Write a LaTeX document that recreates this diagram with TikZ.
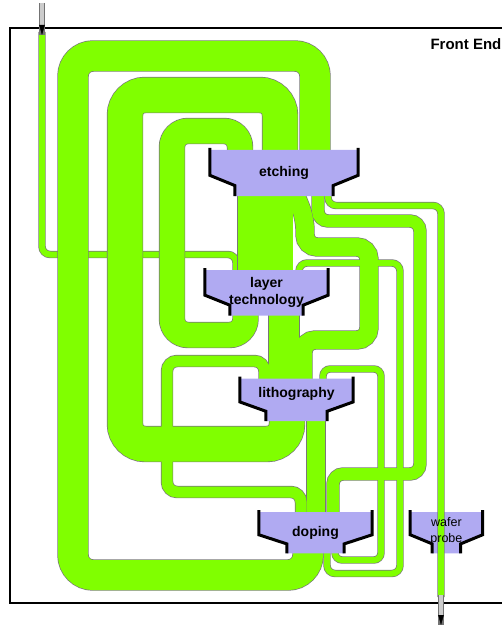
\documentclass[tikz,border=0pt]{standalone}
\usepackage{fontspec}
\setmainfont{Liberation Sans}
\usetikzlibrary{positioning,calc,arrows.meta}
\definecolor{pipegreen}{RGB}{128,255,0}
\definecolor{pipeline}{RGB}{120,120,120}
\definecolor{hopperblue}{RGB}{176,170,242}
\pgfdeclarelayer{pipes}
\pgfdeclarelayer{background}
\pgfsetlayers{pipes,background,main}
\tikzset{
  pipe/.style={draw=\pipecol, line width=#1+\pipeplus},
  hopper/.style={rectangle, inner sep=0pt, minimum width=#1, minimum height=44, align=center, font=\bfseries\fontsize{14}{17}\selectfont},
  hopperfill/.style={fill=hopperblue},
  hopperedge/.style={draw=black, line width=3},
  feedarrow/.style={draw=black!20, line width=4, -{Triangle[length=10pt,width=5.5pt,color=black,line width=0.4pt]}, preaction={draw=black!55, line width=5.6, arrows=-}},
}
% purple hopper drawn round a named node, #2 = inset of the outlet
\newcommand{\hopperbody}[2]{%
  \fill[hopperfill] (#1.north west) -- (#1.north east)
    -- ($(#1.north east)!0.55!(#1.south east)$)
    -- ($(#1.north east)!0.77!(#1.south east)+(-#2,0)$)
    -- ($(#1.south east)+(-#2,0)$) -- ($(#1.south west)+(#2,0)$)
    -- ($(#1.north west)!0.77!(#1.south west)+(#2,0)$)
    -- ($(#1.north west)!0.55!(#1.south west)$) -- cycle;
  \draw[hopperedge] ([yshift=2]#1.north west) -- ($(#1.north west)!0.55!(#1.south west)$)
    -- ($(#1.north west)!0.77!(#1.south west)+(#2,0)$) -- ($(#1.south west)+(#2,0)$);
  \draw[hopperedge] ([yshift=2]#1.north east) -- ($(#1.north east)!0.55!(#1.south east)$)
    -- ($(#1.north east)!0.77!(#1.south east)+(-#2,0)$) -- ($(#1.south east)+(-#2,0)$);
}

\begin{document}
\begin{tikzpicture}[x=1pt, y=-1pt]
  \useasboundingbox (0,0) rectangle (502,626);
  \node[hopper=148, minimum height=46] (etching) at (284,173) {etching};
  \node[hopper=123, minimum height=45, below=74pt of etching, xshift=-17.5pt] (layer) {layer\\technology};
  \node[hopper=113, minimum height=42, below=63pt of layer, xshift=30pt] (litho) {\raisebox{6pt}[\height][\depth]{lithography}};
  \node[hopper=113, minimum height=41, below=91pt of litho, xshift=19pt] (doping) {doping};
  \node[hopper=72, minimum height=41, right=38pt of doping, font=\fontsize{12.5}{14}\selectfont] (wafer) {\raisebox{2pt}[\height][\depth]{wafer}\\probe};

  \draw[line width=2] (512,28) -- (10,28) -- (10,603) -- (512,603);
  \node[anchor=west, font=\bfseries\fontsize{15}{18}\selectfont] (title) at (427,44) {Front End};

  \coordinate (in) at (42,3);
  \coordinate (inpipe) at (42,32);
  \coordinate (pipeend) at (441,597);
  \coordinate (out) at (441,625);

  \begin{pgfonlayer}{pipes}
    \hopperbody{wafer}{22}
    % feed line runs under the loops
    \foreach \pipecol/\pipeplus in {pipeline/1.4, pipegreen/0}{
      \draw[pipe=6, rounded corners=8] (inpipe) |- (236,254.5) -- ([xshift=-30.5,yshift=-4]layer.north);
    }
    \foreach \pipecol/\pipeplus in {pipeline/1.4, pipegreen/0}{
      % return loops
      \draw[pipe=30, rounded corners=20] ([xshift=-7.5,yshift=4]doping.south) |- (73,575) |- (315,56) -- ([xshift=31,yshift=-4]etching.north);
      \draw[pipe=35, rounded corners=20] ([xshift=-9.5,yshift=4]litho.south) |- (125,444) |- (280,95) -- ([xshift=-4,yshift=-4]etching.north);
      \draw[pipe=25, rounded corners=16] ([xshift=-21,yshift=4]layer.south) |- (172,335) |- (240,131) -- ([xshift=-44,yshift=-4]etching.north);
      \draw[pipe=11, rounded corners=10] ([xshift=-32,yshift=-4]litho.north) |- (167,361) |- (301,492) -- ([xshift=-14.5,yshift=-4]doping.north);
      % main line
      \draw[pipe=55] ([xshift=-19,yshift=4]etching.south) -- ([xshift=-1.5,yshift=-4]layer.north);
      \draw[pipe=30] ([xshift=17.5,yshift=4]layer.south) -- ([xshift=-12.5,yshift=-4]litho.north);
      \draw[pipe=18] ([xshift=19.5,yshift=4]litho.south) -- ([xshift=0.5,yshift=-4]doping.north);
      % bypasses on the right
      \draw[pipe=18, rounded corners=12] ([xshift=8,yshift=10]etching.south) -- (305,218) |- (369,247) |- (303,340) -- ([xshift=6.5,yshift=-4]litho.north);
      \draw[pipe=12, rounded corners=10] ([xshift=34,yshift=6]etching.south) |- (420,221) |- (333,474) -- ([xshift=17.5,yshift=-4]doping.north);
      \draw[pipe=6, rounded corners=8] ([xshift=32.5,yshift=-4]layer.north) |- (400,263) |- (327,573.5) -- ([xshift=11.5,yshift=4]doping.south);
      \draw[pipe=6, rounded corners=7] ([xshift=26.5,yshift=-4]litho.north) |- (381,369) |- (335,560) -- ([xshift=19.5,yshift=4]doping.south);
      \draw[pipe=6, rounded corners=8] ([xshift=44,yshift=6]etching.south) |- (441,205.5) -- (pipeend);
    }
  \end{pgfonlayer}

  \begin{pgfonlayer}{background}
    \hopperbody{etching}{25}
    \hopperbody{layer}{25}
    \hopperbody{litho}{26}
    \hopperbody{doping}{28}
  \end{pgfonlayer}

  \draw[feedarrow] (in) -- ([yshift=-3]inpipe);
  \draw[feedarrow] ([yshift=2]pipeend) -- (out);
\end{tikzpicture}
\end{document}
